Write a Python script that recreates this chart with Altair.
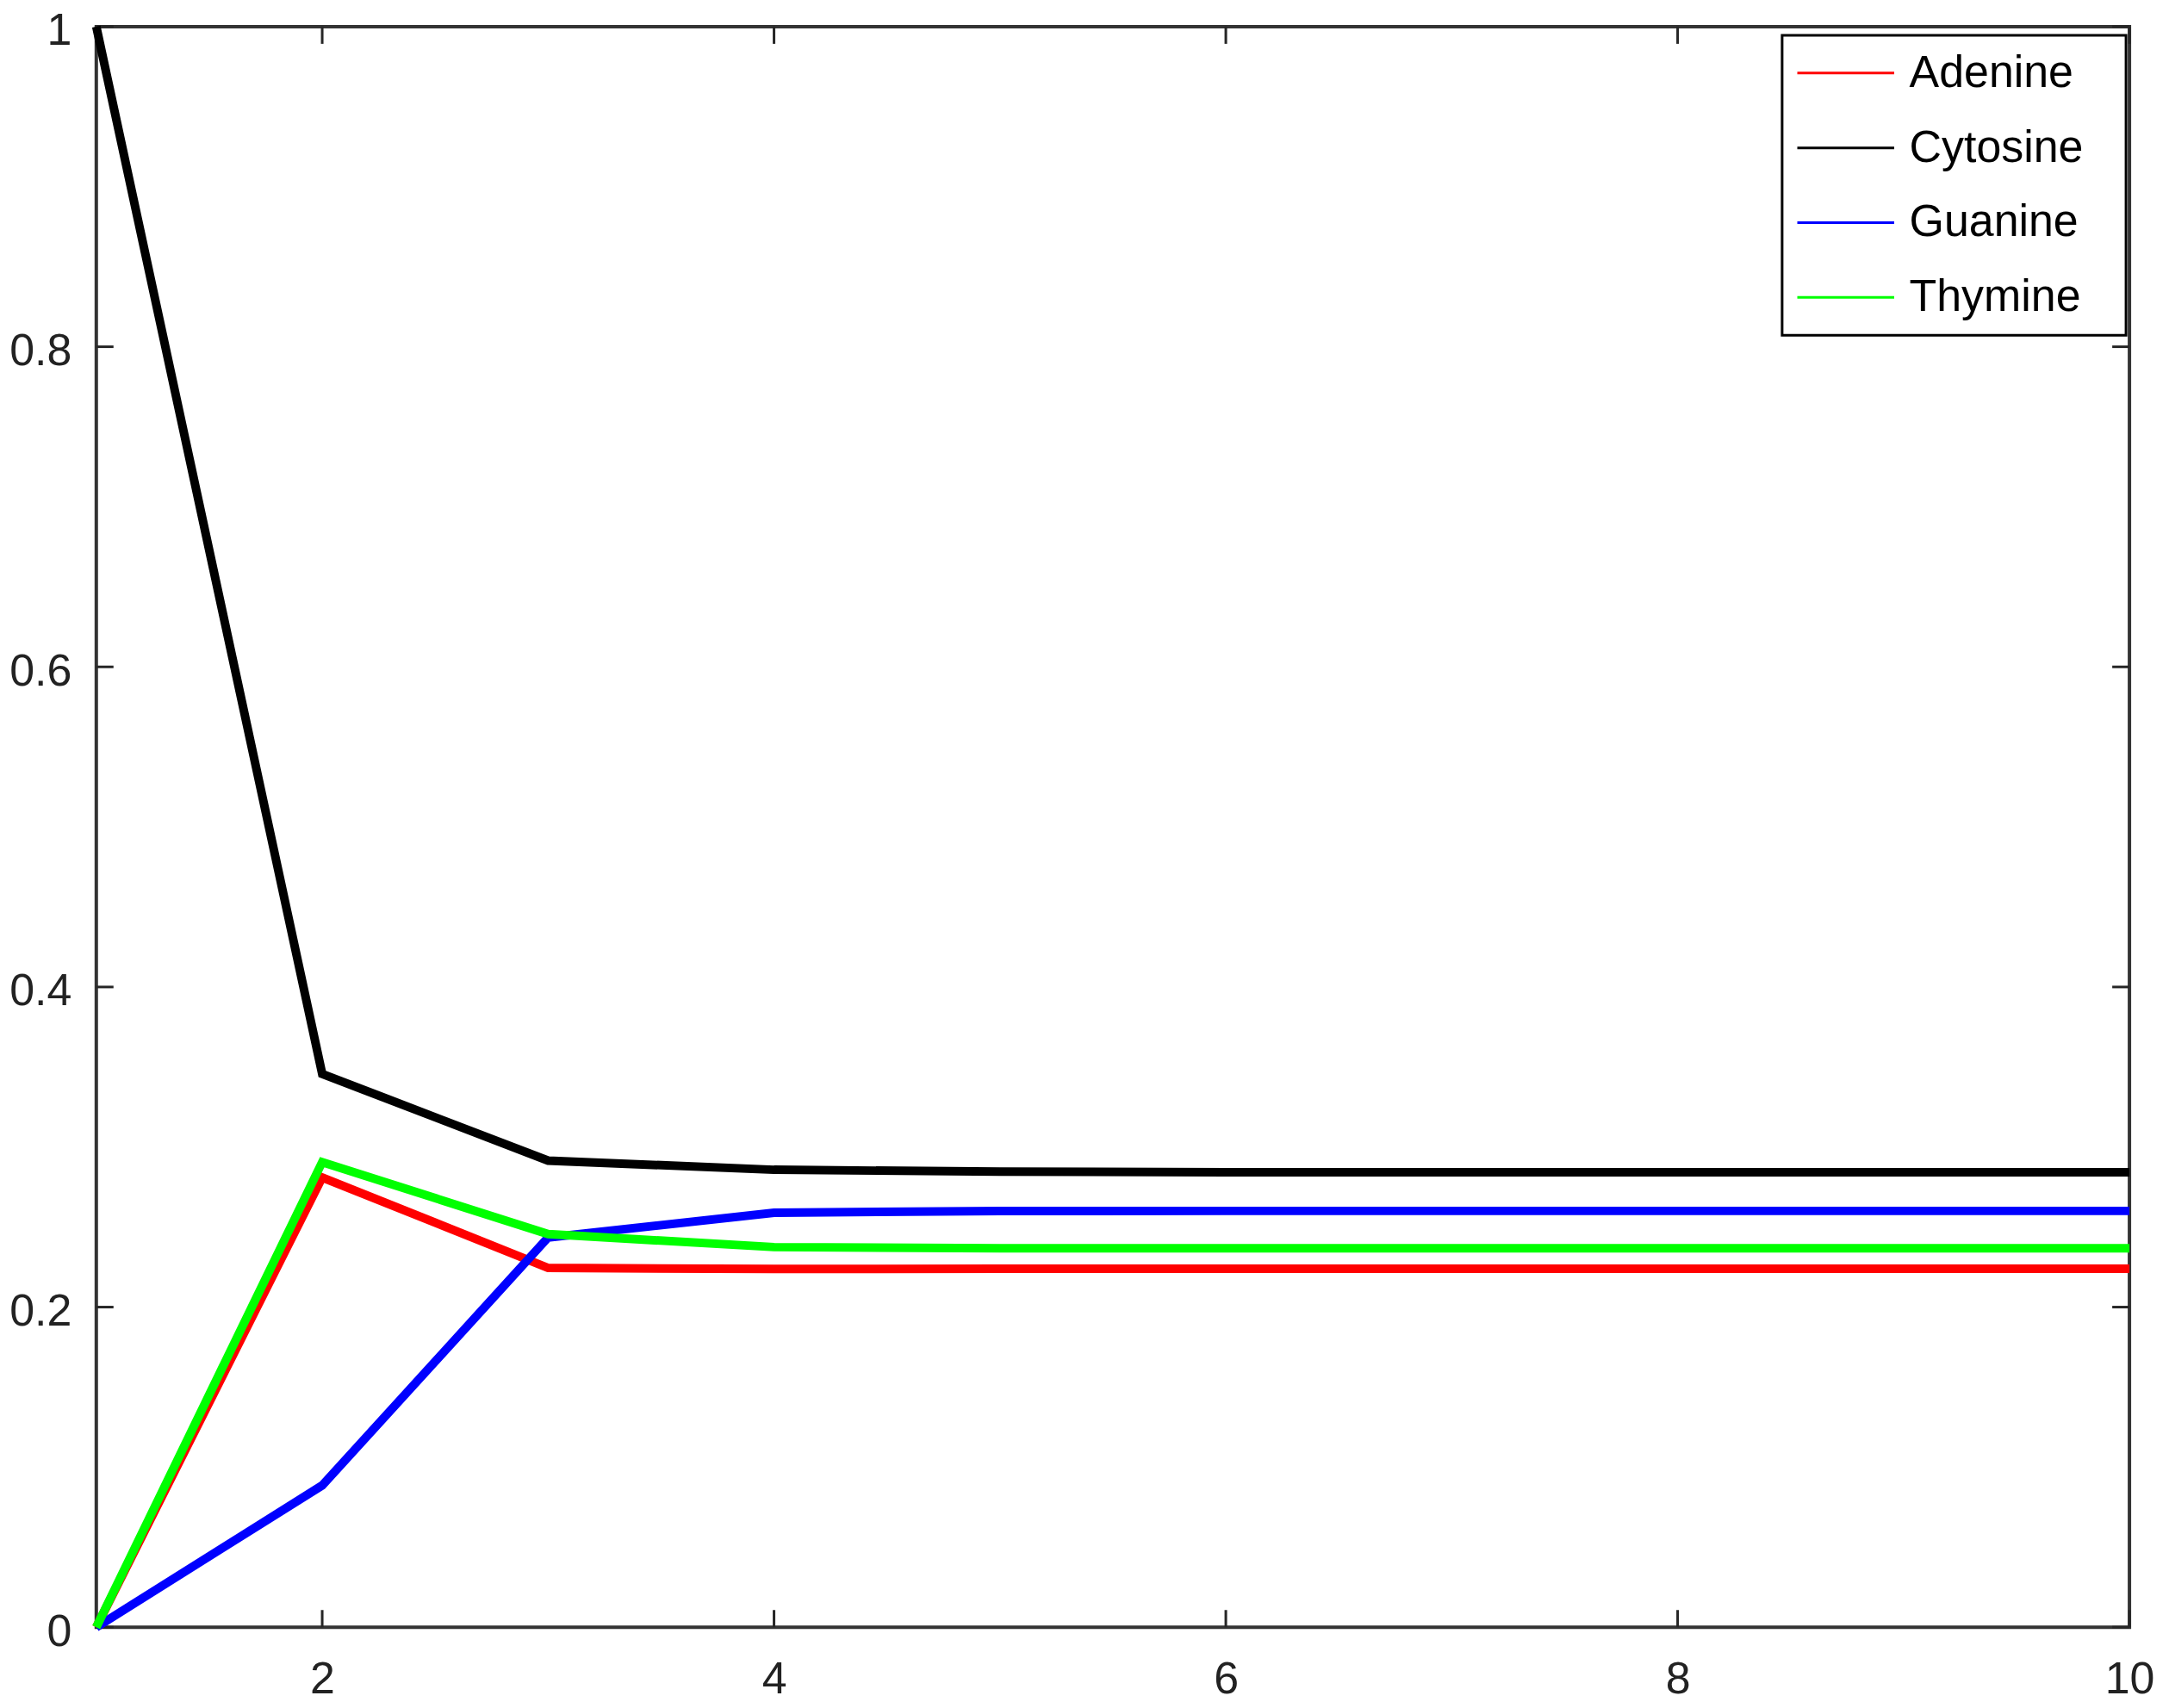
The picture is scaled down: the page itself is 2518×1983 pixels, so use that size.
import altair as alt
import pandas as pd

steps = [1, 2, 3, 4, 5, 6, 7, 8, 9, 10]
adenine = [0.0, 0.281, 0.2245, 0.2238, 0.2240, 0.2240, 0.2240, 0.2240, 0.2240, 0.2240]
cytosine = [1.0, 0.3457, 0.2915, 0.2858, 0.2846, 0.2843, 0.2842, 0.2842, 0.2842, 0.2842]
guanine = [0.0, 0.0886, 0.2435, 0.2590, 0.2600, 0.2601, 0.2601, 0.2601, 0.2601, 0.2601]
thymine = [0.0, 0.2906, 0.2456, 0.2375, 0.2368, 0.2367, 0.2367, 0.2367, 0.2367, 0.2367]

series_names = ["Adenine", "Cytosine", "Guanine", "Thymine"]
series_colors = ["#FF0000", "#000000", "#0000FF", "#00FF00"]
x_ticks = [2, 4, 6, 8, 10]
y_ticks = [0, 0.2, 0.4, 0.6, 0.8, 1]

rows = []
for name, vals in zip(series_names, [adenine, cytosine, guanine, thymine]):
    for s, v in zip(steps, vals):
        rows.append({"step": s, "value": v, "base": name})
df = pd.DataFrame(rows)
xt = pd.DataFrame({"t": x_ticks})
yt = pd.DataFrame({"t": y_ticks})

W, H = 2365, 1862
TL = 20
FONT = "Liberation Sans"

xscale = alt.Scale(domain=[1, 10], nice=False, zero=False)
yscale = alt.Scale(domain=[0, 1], nice=False, zero=False)

lines = alt.Chart(df).mark_line(strokeWidth=10).encode(
    x=alt.X("step:Q", scale=xscale,
            axis=alt.Axis(values=x_ticks, title=None, grid=False, ticks=False, domain=False,
                          labelFont=FONT, labelFontSize=52, labelColor="#222222",
                          labelPadding=35, labelFlush=False, format="d")),
    y=alt.Y("value:Q", scale=yscale,
            axis=alt.Axis(values=y_ticks, title=None, grid=False, ticks=False, domain=False,
                          labelFont=FONT, labelFontSize=52, labelColor="#222222",
                          labelPadding=29, labelOffset=5, labelFlush=False, format="~g")),
    color=alt.Color("base:N",
                    scale=alt.Scale(domain=series_names, range=series_colors),
                    legend=alt.Legend(title=None, orient="none", legendX=1961, legendY=10,
                                      symbolType="M-2.3,0H2.3M12.3,0", symbolSize=49 * 49,
                                      symbolStrokeWidth=3, symbolOffset=30,
                                      labelFont=FONT, labelFontSize=52, labelLimit=600,
                                      labelColor="#000000", labelOffset=48, rowPadding=35,
                                      padding=18, strokeColor="#000000", fillColor="#FFFFFF")),
)

tick_style = dict(color="#262626", strokeWidth=3)
xb = alt.Chart(xt).mark_rule(**tick_style).encode(
    x=alt.X("t:Q", scale=xscale), y=alt.value(H), y2=alt.value(H - TL))
xtop = alt.Chart(xt).mark_rule(**tick_style).encode(
    x=alt.X("t:Q", scale=xscale), y=alt.value(0), y2=alt.value(TL))
yl = alt.Chart(yt).mark_rule(**tick_style).encode(
    y=alt.Y("t:Q", scale=yscale), x=alt.value(0), x2=alt.value(TL))
yr = alt.Chart(yt).mark_rule(**tick_style).encode(
    y=alt.Y("t:Q", scale=yscale), x=alt.value(W), x2=alt.value(W - TL))

chart = alt.layer(xb, xtop, yl, yr, lines).properties(
    width=W, height=H,
    autosize=alt.AutoSizeParams(type="none"),
    padding={"left": 104, "top": 21, "right": 38, "bottom": 90},
    background="white",
).configure_view(
    stroke="#333333", strokeWidth=4
).configure_legend(
    strokeWidth=3
)

chart.save("out.html", embed_options={"renderer": "svg", "actions": False})
